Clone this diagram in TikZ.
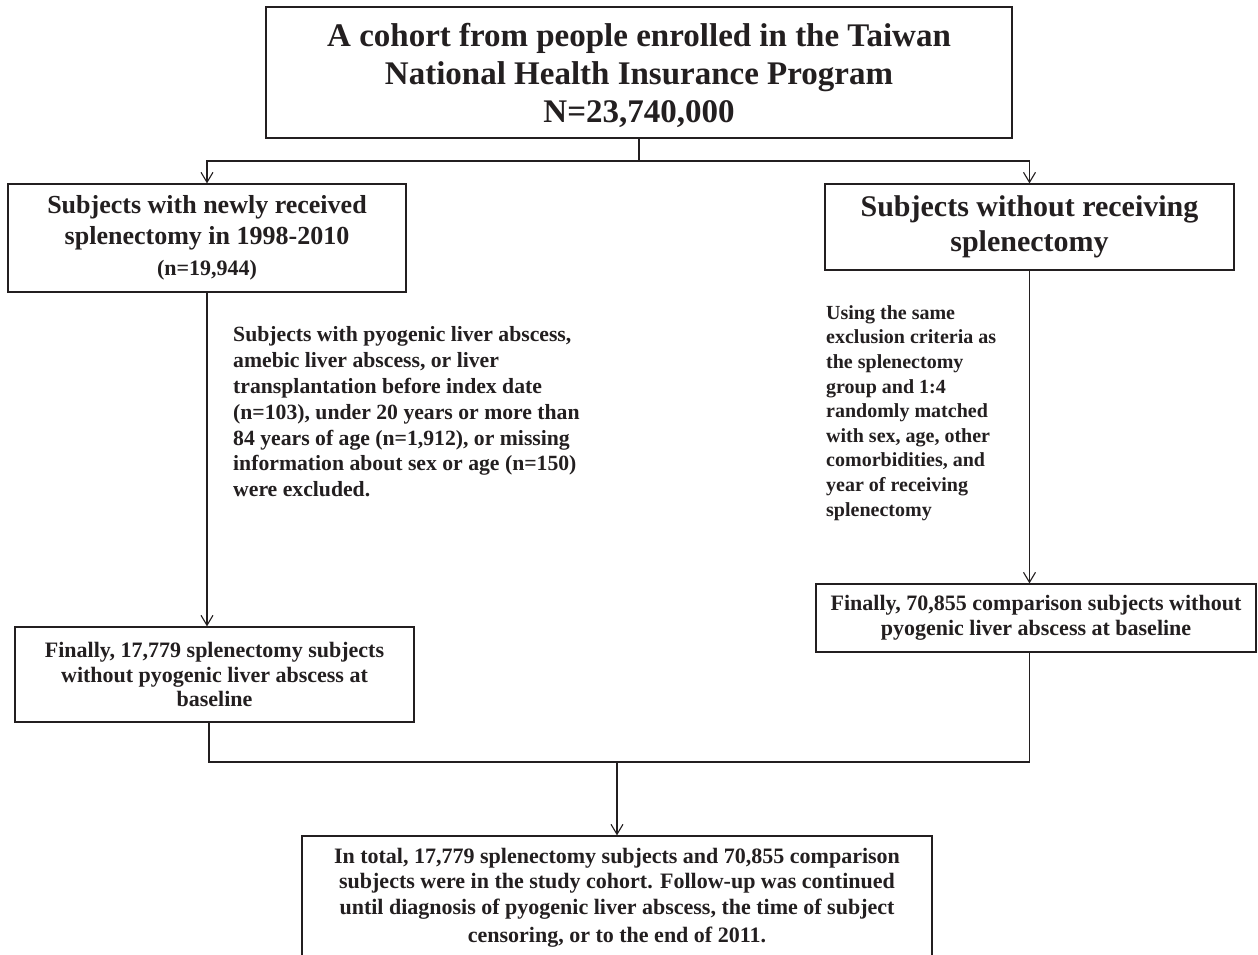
\documentclass[tikz,border=0pt]{standalone}
\usepackage{fontspec}
\setmainfont{Liberation Serif}
\usetikzlibrary{arrows.meta}
\definecolor{ink}{HTML}{231F20}
\begin{document}
\begin{tikzpicture}[x=1pt,y=-1pt,
  box/.style={draw=ink, line width=1.3pt, text=ink, align=center, inner sep=0pt},
  conn/.style={draw=ink, line width=1.1pt},
  arr/.style={conn, -{Straight Barb[length=10pt,width=12pt,line width=1.1pt]}},
  note/.style={text=ink, align=left, inner sep=0pt}]
\useasboundingbox (0,0) rectangle (1258,954);
\clip (0,0) rectangle (1258,954);
\fill[white] (0,0) rectangle (1258,954);

\node[box, minimum width=746pt, minimum height=131pt, font=\bfseries\fontsize{33}{38}\selectfont] (top) at (639,72.5)
  {\rule{0pt}{29pt}A cohort from people enrolled in the Taiwan\\National Health Insurance Program\\N=23,740,000};

\node[box, minimum width=398pt, minimum height=108pt, font=\bfseries\fontsize{26}{31}\selectfont] (ls) at (207,238)
  {Subjects with newly received\\splenectomy in 1998-2010\\{\fontsize{22}{30}\selectfont (n=19,944)}};

\node[box, minimum width=409pt, minimum height=86pt, font=\bfseries\fontsize{30}{35}\selectfont] (rs) at (1029.5,227)
  {Subjects without receiving\\splenectomy};

\node[note, anchor=west, font=\bfseries\fontsize{21.7}{25.8}\selectfont] (excl) at (233,412)
  {Subjects with pyogenic liver abscess,\\amebic liver abscess, or liver\\transplantation before index date\\(n=103), under 20 years or more than\\84 years of age (n=1,912), or missing\\information about sex or age (n=150)\\were excluded.};

\node[note, anchor=west, font=\bfseries\fontsize{20}{24.6}\selectfont] (match) at (826,413)
  {Using the same\\exclusion criteria as\\the splenectomy\\group and 1:4\\randomly matched\\with sex, age, other\\comorbidities, and\\year of receiving\\splenectomy};

\node[box, minimum width=399pt, minimum height=95pt, font=\bfseries\fontsize{22}{24.5}\selectfont] (ls2) at (214.5,674.5)
  {Finally, 17,779 splenectomy subjects\\without pyogenic liver abscess at\\baseline};

\node[box, minimum width=440pt, minimum height=68pt, font=\bfseries\fontsize{22}{25}\selectfont] (rt2) at (1036,618)
  {Finally, 70,855 comparison subjects without\\pyogenic liver abscess at baseline};

\node[box, minimum width=630pt, minimum height=124pt, font=\bfseries\fontsize{22}{25.5}\selectfont] (total) at (617,898)
  {In total, 17,779 splenectomy subjects and 70,855 comparison\\subjects were in the study cohort. Follow-up was continued\\until diagnosis of pyogenic liver abscess, the time of subject\\[3pt]censoring, or to the end of 2011.};

\coordinate (split) at (639,161);
\coordinate (merge) at (617,762);
\draw[conn] (top.south) -- (split);
\draw[arr] (split) -| (ls.north);
\draw[arr] (split) -| (rs.north);
\draw[arr] (ls.south) -- (ls.south |- ls2.north);
\draw[arr] (rs.south) -- (rs.south |- rt2.north);
\draw[conn] ([xshift=2pt]ls.south |- ls2.south) |- (merge);
\draw[conn] (rs.south |- rt2.south) |- (merge);
\draw[arr] (merge) -- (total.north);
\end{tikzpicture}
\end{document}
